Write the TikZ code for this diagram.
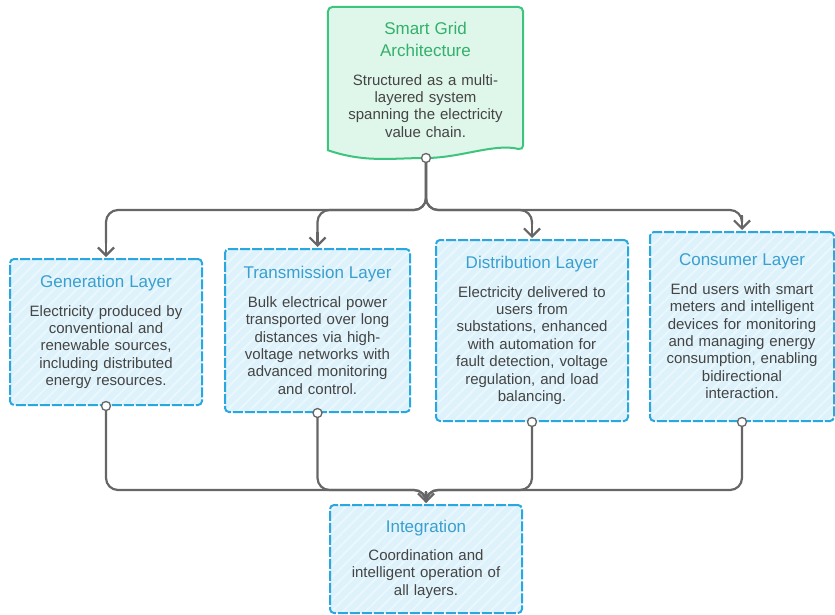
\documentclass[tikz,border=0pt]{standalone}
\usepackage{fontspec}
\setmainfont{Liberation Sans}
\usetikzlibrary{arrows.meta,patterns.meta,calc}

\definecolor{greenline}{HTML}{3DC47E}
\definecolor{greenfill}{HTML}{DFF6EA}
\definecolor{greentitle}{HTML}{33B06C}
\definecolor{blueline}{HTML}{2AA7DF}
\definecolor{bluefill}{HTML}{DDF2FA}
\definecolor{bluestripe}{HTML}{EAF7FC}
\definecolor{bluetitle}{HTML}{3A9FCF}
\definecolor{bodygray}{HTML}{444444}
\definecolor{conngray}{HTML}{666666}

\newcommand{\bodyfont}{\fontsize{15}{17.4}\selectfont}
\newcommand{\headfont}{\fontsize{17}{21.7}\selectfont}
\newcommand{\boxhead}[2]{{\color{#1}\headfont #2\par}\vspace{11pt}}

\tikzset{
  layerbox/.style={draw=blueline, line width=2pt, dash pattern=on 10pt off 2pt,
    rounded corners=4pt, preaction={fill=bluefill},
    pattern={Lines[angle=45,distance=8pt,line width=2pt]}, pattern color=bluestripe,
    align=center, text=bodygray, font=\bodyfont, inner sep=0pt},
  topbox/.style={draw=greenline, line width=2pt, fill=greenfill, rounded corners=5pt},
  toptext/.style={align=center, text=bodygray, font=\bodyfont, inner sep=0pt},
  conn/.style={draw=conngray, line width=2.2pt, rounded corners=12pt},
  tip/.style={draw=conngray, line width=2.2pt,
    -{Straight Barb[length=8pt,width=16pt,line width=2.2pt]}},
  dot/.style={circle, draw=conngray, fill=white, line width=1.3pt,
    minimum size=9pt, inner sep=0pt},
}

\begin{document}
\begin{tikzpicture}[x=1pt,y=-1pt]
\useasboundingbox (0,0) rectangle (835,615);

% top node: document-shaped box with a wavy lower edge
\node[toptext, minimum width=195pt, minimum height=143pt, text width=180pt] (top) at (425.5,78.5) {};
\draw[topbox] (top.south west) -- (top.north west) -- (top.north east) -- (top.south east)
  [rounded corners=0pt] .. controls (495,143) and (460,158) .. (426,158)
  .. controls (392,158) and (365,163) .. (top.south west) -- cycle;
\node[toptext, text width=180pt] (toptxt) at (425.5,80)
  {\boxhead{greentitle}{Smart Grid\\Architecture}Structured as a multi-\\layered system\\spanning the electricity\\value chain.};
\coordinate (topc) at (426,158);

% the four layers
\node[layerbox, minimum width=192pt, minimum height=146pt, text width=176pt] (gen) at (106,332)
  {\boxhead{bluetitle}{Generation Layer}Electricity produced by\\conventional and\\renewable sources,\\including distributed\\energy resources.};
\node[layerbox, minimum width=185pt, minimum height=163pt, text width=176pt] (tra) at (317.5,330.5)
  {\boxhead{bluetitle}{Transmission Layer}Bulk electrical power\\transported over long\\distances via high-\\voltage networks with\\advanced monitoring\\and control.};
\node[layerbox, minimum width=192pt, minimum height=181pt, text width=180pt] (dis) at (532,330.5)
  {\boxhead{bluetitle}{Distribution Layer}Electricity delivered to\\users from\\substations, enhanced\\with automation for\\fault detection, voltage\\regulation, and load\\balancing.};
\node[layerbox, minimum width=184pt, minimum height=189pt, text width=176pt] (con) at (742,326.5)
  {\boxhead{bluetitle}{Consumer Layer}End users with smart\\meters and intelligent\\devices for monitoring\\and managing energy\\consumption, enabling\\bidirectional\\interaction.};

% integration
\node[layerbox, minimum width=192pt, minimum height=108pt, text width=180pt] (integ) at (426,559)
  {\boxhead{bluetitle}{Integration}Coordination and\\intelligent operation of\\all layers.};

% branching connectors; the last straight stretch carries a sharp tip
\coordinate (hubT) at (426,210);
\coordinate (hubB) at (426,490);
\coordinate (intin) at ([yshift=1pt]integ.north);
\foreach \n in {gen,tra,dis,con}{
  \coordinate (\n in) at ([yshift=1pt]\n.north);
  \draw[conn] (topc) -- (hubT) -| ([yshift=14pt]\n in);
  \draw[tip] ([yshift=15pt]\n in) -- (\n in);
  \draw[conn] (\n.south) |- (hubB) -- ([yshift=11pt]intin);
}
\draw[tip] ([yshift=12pt]intin) -- (intin);

% connector ports
\node[dot] (tdot) at (topc) {};
\node[dot] (gdot) at (gen.south) {};
\node[dot] (rdot) at (tra.south) {};
\node[dot] (ddot) at (dis.south) {};
\node[dot] (cdot) at (con.south) {};
\end{tikzpicture}
\end{document}
